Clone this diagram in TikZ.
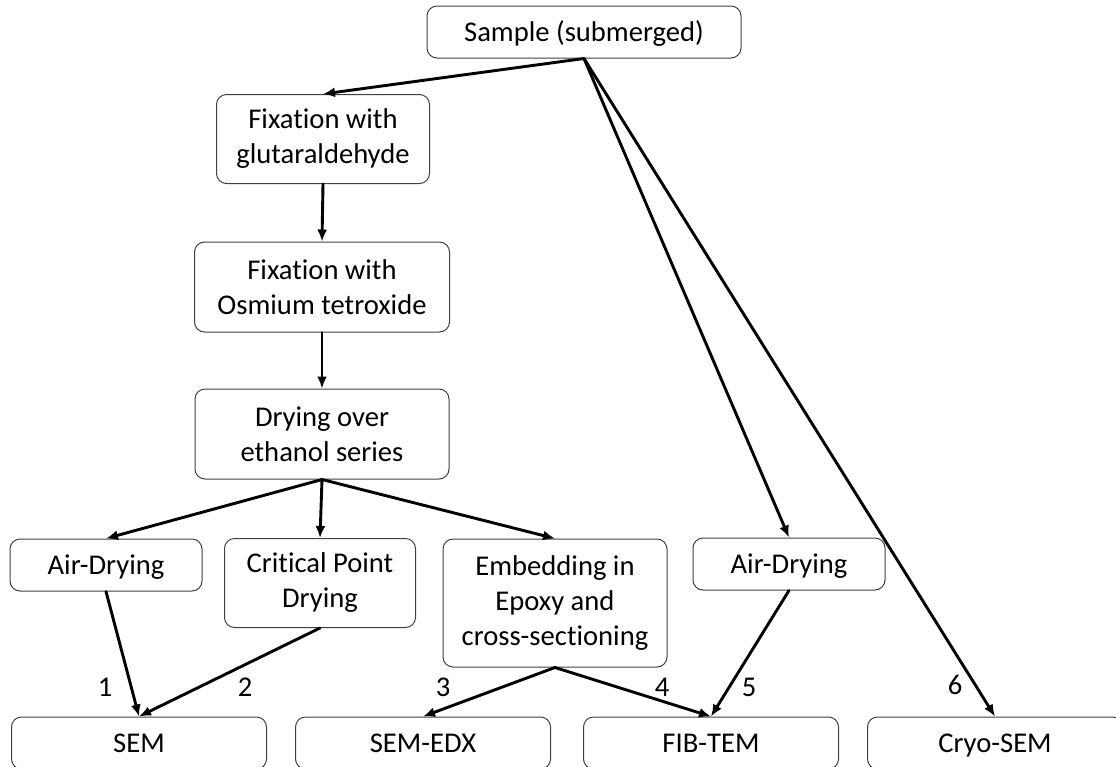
\documentclass[tikz,border=0pt]{standalone}
\usepackage{fontspec}
\setmainfont{Carlito}[Ligatures={NoCommon}]
\usetikzlibrary{arrows.meta}

\tikzstyle{obj1}=[black, line width=1.45pt, line cap=round, -{Latex[length=6pt,width=5pt]}]
\tikzstyle{box}=[draw=black!75, line width=0.5pt, rounded corners=5pt, align=center, inner sep=0pt, font=\fontsize{14.3}{17.5}\selectfont]
\tikzstyle{oneline}=[box, text height=9pt, text depth=0pt, minimum height=26pt]

\begin{document}
\begin{tikzpicture}[
	x=0.5pt, y=-0.5pt
	]
	
	\def\u{0.5pt} % one pixel of the reference
	
	\useasboundingbox (0,0) rectangle (1116,767);
	\clip (0,0) rectangle (1116,767);
	
	% Preparation chain
	\node[oneline, minimum width={314*\u}] (sample) at (584,32) {Sample (submerged)};
	\node[box, minimum width={213*\u}, minimum height={89*\u}] (fixglu) at (323,139) {Fixation with\\glutaraldehyde};
	\node[box, minimum width={255*\u}, minimum height={90*\u}] (fixos) at (322,287) {Fixation with\\Osmium tetroxide};
	\node[box, minimum width={254*\u}, minimum height={90*\u}] (drying) at (322,434) {Drying over\\ethanol series};
	
	% Drying / embedding step
	\node[oneline, minimum width={192*\u}] (airl) at (106,565) {Air-Drying};
	\node[box, minimum width={191*\u}, minimum height={89*\u}] (cpd) at (320,583) {Critical Point\\Drying};
	\node[box, minimum width={224*\u}, minimum height={128*\u}] (embed) at (555,603) {Embedding in\\Epoxy and\\cross-sectioning};
	\node[oneline, minimum width={192*\u}] (airr) at (789,564) {Air-Drying};
	
	% Methods, cut by the lower edge
	\foreach \n/\x/\t in {sem/139/SEM, semedx/423/SEM-EDX, fibtem/711/FIB-TEM, cryo/995/Cryo-SEM} {
		\node[oneline, minimum width={255*\u}] (\n) at (\x,743) {\t};
	}
	
	% Route numbers
	\foreach \n/\x/\y in {1/105/687, 2/245/687, 3/443/687, 4/662/687, 5/749/687, 6/955/685} {
		\node[font=\fontsize{14.3}{16}\selectfont] (num\n) at (\x,\y) {\n};
	}
	
	% Connections
	\foreach \p/\q in {sample/fixglu, sample/airr, sample/cryo, fixglu/fixos, fixos/drying, drying/airl, drying/cpd, drying/embed, airl/sem, cpd/sem, embed/semedx, embed/fibtem, airr/fibtem} {
		\draw[obj1] (\p.south) -- (\q.north);
	}
	
\end{tikzpicture}
\end{document}
